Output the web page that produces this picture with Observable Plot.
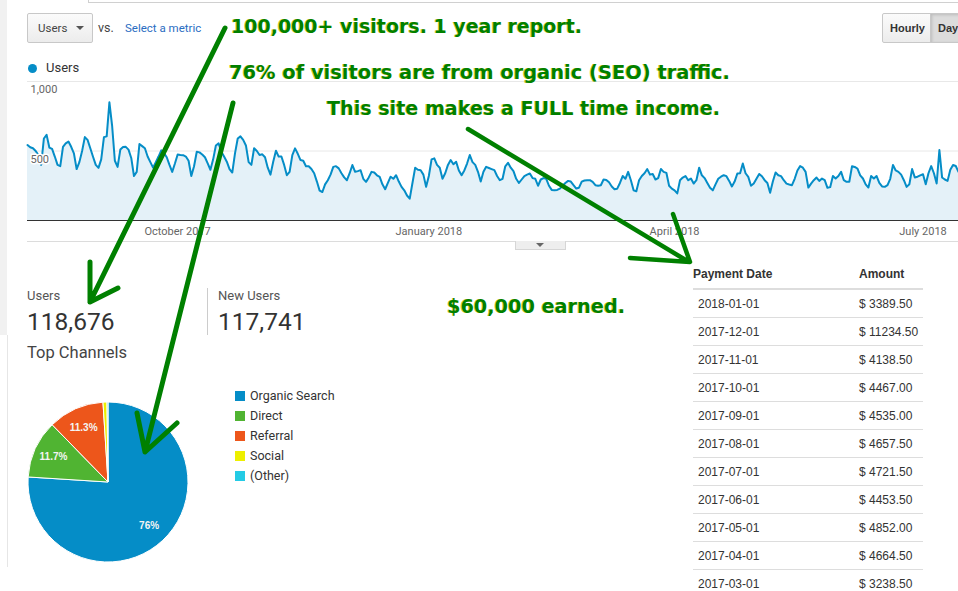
<!DOCTYPE html>
<html>
<head>
<meta charset="utf-8">
<script src="https://cdn.jsdelivr.net/npm/d3@7"></script>
<script src="https://cdn.jsdelivr.net/npm/@observablehq/plot@0.6"></script>
<style>
  body { margin:0; width:958px; height:591px; position:relative; overflow:hidden; background:#fff; font-family:Roboto, "Noto Sans", sans-serif; }
  .abs { position:absolute; white-space:nowrap; }
  #leftstrip { left:0; top:0; width:7px; height:335px; background:#f1f1f1; }
  #leftline { left:7px; top:335px; width:1px; height:232px; background:#e6e6e6; }
  #topline { left:88px; top:2px; width:870px; height:1px; background:#d0d0d0; }
  #topline2 { left:88px; top:0px; width:1px; height:3px; background:#d0d0d0; }
  #dd { left:27px; top:13px; width:64px; height:28px; border:1px solid #c8c8c8; border-radius:2px; background:linear-gradient(#fbfbfb,#ececec); font-size:11.5px; color:#444; }
  #dd span { position:absolute; left:10px; top:7px; }
  #dd i { position:absolute; left:48px; top:12px; width:0; height:0; border-left:4px solid transparent; border-right:4px solid transparent; border-top:4px solid #555; }
  #vs { left:98px; top:20px; font-size:12.5px; color:#444; }
  #sel { left:125px; top:21px; font-size:11.5px; color:#2a6dc2; }
  #hd { left:882px; top:13px; height:28px; width:90px; border:1px solid #c8c8c8; border-radius:2px; background:linear-gradient(#fbfbfb,#ececec); font-family:"Liberation Sans", Arial, sans-serif; font-size:11px; font-weight:bold; color:#333; }
  #hd .h { position:absolute; left:7px; top:8px; }
  #hd .d { position:absolute; left:47px; top:0; width:43px; height:28px; background:#dcdcdc; box-shadow: inset 1px 1px 3px rgba(0,0,0,.15); border-left:1px solid #c8c8c8; }
  #hd .d span { position:absolute; left:7px; top:8px; }
  #leg { left:27px; top:60px; font-size:13px; color:#333; }
  #leg i { position:absolute; left:1px; top:4px; width:9px; height:9px; border-radius:50%; background:#058dc7; }
  #leg span { position:absolute; left:19px; top:0; }
  #chart { left:0; top:75px; }
  #sep { left:27px; top:241px; width:931px; height:1px; background:#dcdcdc; }
  #tab { left:515px; top:241px; width:49px; height:8px; background:#eee; border:1px solid #d6d6d6; border-top:none; }
  #tab i { position:absolute; left:20px; top:2px; border-left:4px solid transparent; border-right:4px solid transparent; border-top:4px solid #666; }
  .mlab { font-size:13px; color:#555; }
  .mval { font-size:24.5px; color:#333; }
  #divider { left:207px; top:288px; width:1px; height:47px; background:#ccc; }
  #tc { left:27px; top:343px; font-size:16.5px; color:#444; }
  #pie { left:0; top:380px; }
  #pleg { left:235px; top:388px; font-size:12.5px; color:#333; }
  #pleg div { position:relative; height:20px; white-space:nowrap; }
  #pleg i { position:absolute; left:0; top:3px; width:10px; height:10px; }
  #pleg span { position:absolute; left:15px; top:0; white-space:nowrap; }
  #tbl { left:693px; top:259px; width:230px; font-family:"Liberation Sans", Arial, sans-serif; font-size:12px; color:#333; }
  #tbl .row { display:flex; align-items:center; height:27px; border-bottom:1px solid #dddddd; }
  #tbl .hdr { display:flex; align-items:center; height:29px; border-bottom:2px solid #dddddd; font-weight:bold; }
  #tbl .c1 { width:166px; }
  #tbl .row .c1 { padding-left:5px; width:161px; }
  #ann { left:0; top:0; z-index:10; pointer-events:none; }
</style>
</head>
<body>
<div class="abs" id="leftstrip"></div>
<div class="abs" id="leftline"></div>
<div class="abs" id="topline"></div>
<div class="abs" id="topline2"></div>
<div class="abs" id="dd"><span>Users</span><i></i></div>
<div class="abs" id="vs">vs.</div>
<div class="abs" id="sel">Select a metric</div>
<div class="abs" id="hd"><span class="h">Hourly</span><div class="d"><span>Day</span></div></div>
<div class="abs" id="leg"><i></i><span>Users</span></div>
<div class="abs" id="chart"></div>
<div class="abs" id="sep"></div>
<div class="abs" id="tab"><i></i></div>
<div class="abs" id="metrics"></div>
<div class="abs" id="divider"></div>
<div class="abs" id="tc">Top Channels</div>
<div class="abs" id="pie"></div>
<div class="abs" id="pleg"></div>
<div class="abs" id="tbl"></div>
<svg class="abs" id="ann" width="958" height="591"></svg>
<script>
// ---------- data ----------
const firstDay = "2017-08-07";
const users = [
  543,527,520,500,470,400,590,616,525,515,
  460,400,391,530,555,568,530,483,370,420,
  500,600,580,520,459,400,379,440,600,605,
  850,680,430,386,510,528,530,510,450,320,
  350,550,535,520,460,420,380,420,460,505,
  485,455,400,350,410,475,472,470,460,430,
  320,390,495,490,475,455,411,365,440,
  540,555,495,460,423,370,345,483,590,605,
  580,540,420,400,520,500,471,476,455,380,
  330,423,502,460,460,400,326,350,470,519,
  480,435,430,390,390,370,340,280,215,205,
  260,290,330,386,391,375,340,310,290,340,
  399,350,355,362,300,278,310,350,345,325,
  314,260,225,270,315,300,326,280,242,
  217,180,157,270,380,365,362,330,242,320,
  440,447,400,380,300,340,400,435,405,423,
  360,326,360,410,471,420,400,350,280,350,
  386,378,370,362,320,290,300,390,415,380,
  355,300,270,295,320,330,338,305,300,250,
  295,305,300,250,220,217,220,229,250,270,
  285,280,254,230,236,280,288,290,290,
  278,254,250,254,295,292,275,245,225,229,
  270,320,300,350,290,217,210,290,320,340,
  370,330,335,295,305,370,350,343,250,229,
  217,195,290,309,320,290,302,266,290,380,
  325,305,270,235,217,260,300,315,326,319,
  285,245,280,338,340,410,340,314,250,266,
  300,335,318,290,270,200,280,345,
  325,319,290,265,259,254,300,360,391,380,
  350,237,265,290,309,285,302,290,235,240,
  320,302,320,350,290,278,278,390,385,374,
  325,302,260,237,320,302,320,270,245,242,
  254,300,400,360,350,330,290,242,261,370,
  310,315,325,333,261,340,391,340,266,507,
  309,295,285,365,399,392,350
];
const yTicks = [500, 1000];
const xTicks = ["2017-10-01", "2018-01-01", "2018-04-01", "2018-07-01"];

const metricLabels = ["Users", "New Users"];
const metricValues = [118676, 117741];

const channels = ["Organic Search", "Direct", "Referral", "Social", "(Other)"];
const channelShares = [76, 11.7, 11.3, 0.8, 0.2];
const channelColors = ["#058dc7", "#50b432", "#ed561b", "#edef00", "#24cbe5"];

const paymentDates = ["2018-01-01","2017-12-01","2017-11-01","2017-10-01","2017-09-01","2017-08-01","2017-07-01","2017-06-01","2017-05-01","2017-04-01","2017-03-01"];
const paymentAmounts = [3389.50, 11234.50, 4138.50, 4467.00, 4535.00, 4657.50, 4721.50, 4453.50, 4852.00, 4664.50, 3238.50];

const annotations = [
  "100,000+ visitors. 1 year report.",
  "76% of visitors are from organic (SEO) traffic.",
  "This site makes a FULL time income.",
  "$60,000 earned."
];

// ---------- line chart ----------
const start = new Date(firstDay + "T00:00:00Z");
const series = users.map((v, i) => ({date: d3.utcDay.offset(start, i), users: v}));
const chart = Plot.plot({
  width: 958, height: 170,
  marginLeft: 27, marginRight: 0, marginTop: 6, marginBottom: 25,
  style: {fontFamily: "Roboto, sans-serif", fontSize: "11px", color: "#666", background: "transparent", overflow: "visible"},
  x: {type: "utc", domain: [series[0].date, series[series.length - 1].date],
      ticks: xTicks.map(d => new Date(d + "T00:00:00Z")), tickFormat: d3.utcFormat("%B %Y"),
      tickSize: 0, tickPadding: 7, label: null},
  y: {domain: [0, 1000], axis: null},
  marks: [
    Plot.ruleY(yTicks, {stroke: "#e8e8e8"}),
    Plot.areaY(series, {x: "date", y: "users", fill: "#e4f1f8"}),
    Plot.lineY(series, {x: "date", y: "users", stroke: "#058dc7", strokeWidth: 2}),
    Plot.ruleY([0], {stroke: "#333", strokeWidth: 1}),
    Plot.text(yTicks, {x: () => series[0].date, y: d => d, text: d => d3.format(",")(d),
      textAnchor: "start", dx: 3, dy: 8, fill: "#666", stroke: "white", strokeWidth: 3, fontSize: 11})
  ]
});
document.getElementById("chart").appendChild(chart);

// ---------- metrics ----------
const met = d3.select("#metrics");
metricLabels.forEach((lab, i) => {
  const x = i === 0 ? 27 : 218;
  met.append("div").attr("class", "abs mlab").style("left", x + "px").style("top", "288px").text(lab);
  met.append("div").attr("class", "abs mval").style("left", x + "px").style("top", "307px").text(d3.format(",")(metricValues[i]));
});

// ---------- pie ----------
const R = 80, cx = 108, cy = 102;
const pieSvg = d3.select("#pie").append("svg").attr("width", 200).attr("height", 200);
const arcs = d3.pie().sort(null).value(d => d)(channelShares);
const arc = d3.arc().innerRadius(0).outerRadius(R);
const labelArc = d3.arc().innerRadius(R * 0.75).outerRadius(R * 0.75);
const g = pieSvg.append("g").attr("transform", `translate(${cx},${cy})`);
g.selectAll("path").data(arcs).join("path")
  .attr("d", arc).attr("fill", (d, i) => channelColors[i]).attr("stroke", "#fff").attr("stroke-width", 1);
g.selectAll("text").data(arcs.filter(d => d.data > 5)).join("text")
  .attr("transform", d => `translate(${labelArc.centroid(d)})`)
  .attr("text-anchor", "middle").attr("dy", "0.35em")
  .attr("font-family", "Liberation Sans, Arial, sans-serif").attr("font-size", 10).attr("font-weight", "bold")
  .attr("fill", "#f4f4f4")
  .text(d => (Math.round(d.data * 10) / 10) + "%");

const pl = d3.select("#pleg");
channels.forEach((c, i) => {
  const row = pl.append("div");
  row.append("i").style("background", channelColors[i]);
  row.append("span").text(c);
});

// ---------- table ----------
const tbl = d3.select("#tbl");
const hdr = tbl.append("div").attr("class", "hdr");
hdr.append("div").attr("class", "c1").text("Payment Date");
hdr.append("div").text("Amount");
paymentDates.forEach((d, i) => {
  const r = tbl.append("div").attr("class", "row");
  r.append("div").attr("class", "c1").text(d);
  r.append("div").text("$ " + d3.format(".2f")(paymentAmounts[i]));
});

// ---------- annotations (decoration) ----------
const ann = d3.select("#ann");
const annPos = [
  {x: 231, y: 33, w: 351},
  {x: 229, y: 79, w: 501},
  {x: 327, y: 115, w: 393},
  {x: 447, y: 313, w: 178}
];
annotations.forEach((t, i) => {
  const p = annPos[i];
  [["#d8c800", -0.8, 0.8], ["#008000", 0, 1]].forEach(([col, dx, op]) => {
    ann.append("text").attr("x", p.x + dx).attr("y", p.y)
      .attr("textLength", p.w).attr("lengthAdjust", "spacingAndGlyphs")
      .attr("font-family", "DejaVu Sans, Verdana, sans-serif").attr("font-weight", "bold").attr("font-size", 20)
      .attr("fill", col).attr("opacity", op).text(t);
  });
});
const arrows = [
  "M225,28 L90,302 M90,262 L90,302 L118,288",
  "M233,103 L145,452 M137,413 L145,452 L177,423",
  "M468,129 L689,262 M673,214 L690,262 L630,258"
];
arrows.forEach((d, i) => {
  ann.append("path").attr("d", d).attr("fill", "none").attr("stroke", "#008000")
    .attr("stroke-width", i === 2 ? 4.5 : 5).attr("stroke-linecap", "round").attr("stroke-linejoin", "round");
});
</script>
</body>
</html>
